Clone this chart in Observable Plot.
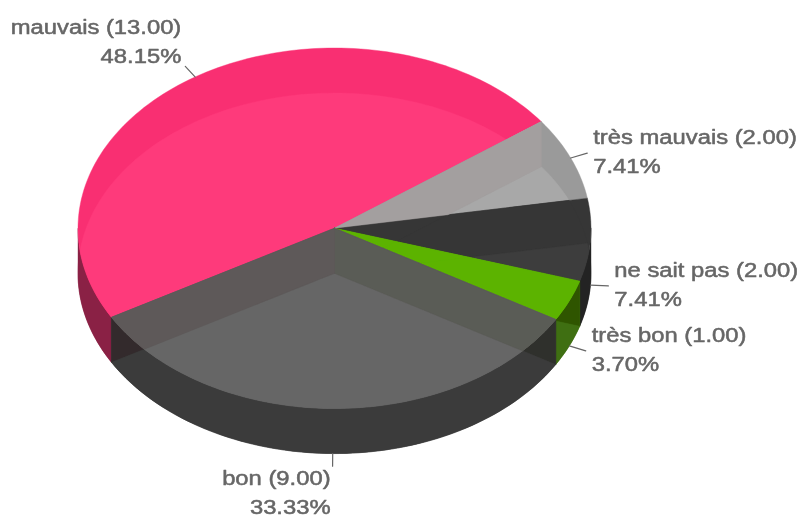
<!DOCTYPE html>
<html><head><meta charset="utf-8">
<style>html,body{margin:0;padding:0;background:#fff}svg{display:block}</style>
<script src="https://cdn.jsdelivr.net/npm/d3@7"></script>
<script src="https://cdn.jsdelivr.net/npm/@observablehq/plot@0.6"></script>
</head><body><script>
const categories = ["mauvais","très mauvais","ne sait pas","très bon","bon"];
const counts = [13,2,2,1,9];
const percents = ["48.15%","7.41%","7.41%","3.70%","33.33%"];

// colours of each top face: plain, then seen over the floor sector of each slice (same order)
const topPlain = ["#f92f72","#9a9a9a","#363636","#5cb300","#666666"];
const topOverFloor = [
  ["#fe3a7b","#f92f72","#f92f72","#f92f72","#f92f72"],
  ["#9a9a9a","#a8a8a8","#9a9a9a","#9a9a9a","#9a9a9a"],
  ["#363636","#363636","#3d3d3d","#3d3d3d","#363636"],
  ["#5cb300","#5cb300","#5cb300","#5cb300","#5cb300"],
  ["#5e5959","#5a5c56","#5a5c56","#5a5c56","#666666"]
];
const wallPlain = ["#8a2145","#999999","#232323","#3f6f12","#3b3b3b"];
const wallOverFloor = [
  ["#8a2145","#8a2145","#8a2145","#8a2145","#8a2145"],
  ["#999999","#999999","#999999","#999999","#999999"],
  ["#232323","#343434","#232323","#232323","#232323"],
  ["#3f6f12","#3f6f12","#2f5500","#3f6f12","#3f6f12"],
  ["#332a2c","#3b3b3b","#3b3b3b","#2f302c","#3b3b3b"]
];
// inner cut faces of the slices, seen through a neighbouring top face
const cutFaceTint = {tresMauvaisOverMauvais:"#a39f9f", bonOverTresBon:"#5a5c56", bonOverMauvais:"#5e5959"};

const depth = 0.25;          // thickness of the pie, in radii of the vertical axis
const startAngle = 150.4;    // degrees, clockwise on screen from 3 o'clock
const total = d3.sum(counts);
const rad = Math.PI/180;

let a = startAngle;
const spans = counts.map(v => { const s=[a, a+v/total*360]; a=s[1]; return s; });

const arc = (a0,a1,dy=0) => {
  const n = Math.max(2, Math.ceil(Math.abs(a1-a0)/1.5));
  return d3.range(n+1).map(i => { const t=(a0+(a1-a0)*i/n)*rad; return [Math.cos(t), Math.sin(t)+dy]; });
};
const sector = ([a0,a1],dy=0) => [[0,dy], ...arc(a0,a1,dy)];
const cutFace = deg => { const c=Math.cos(deg*rad), s=Math.sin(deg*rad); return [[0,0],[c,s],[c,s+depth],[0,depth]]; };
function wall([a0,a1]){
  const out=[];
  for (const [lo,hi] of [[0,180],[360,540]]) {
    const s=Math.max(a0,lo), e=Math.min(a1,hi);
    if (e>s) out.push([...arc(s,e,0), ...arc(e,s,depth)]);
  }
  return out;
}
// Sutherland-Hodgman against a convex clip polygon
function clip(subject, convex){
  let area=0; convex.forEach((p,i)=>{const q=convex[(i+1)%convex.length]; area+=p[0]*q[1]-q[0]*p[1];});
  const sgn=Math.sign(area);
  let out=subject;
  convex.forEach((p,i)=>{
    const q=convex[(i+1)%convex.length];
    const side=r=>sgn*((q[0]-p[0])*(r[1]-p[1])-(q[1]-p[1])*(r[0]-p[0]));
    const input=out; out=[];
    input.forEach((r,j)=>{
      const s=input[(j+1)%input.length], sr=side(r), ss=side(s);
      if(sr>=0) out.push(r);
      if((sr>=0)!==(ss>=0)){const k=sr/(sr-ss); out.push([r[0]+(s[0]-r[0])*k, r[1]+(s[1]-r[1])*k]);}
    });
  });
  return out;
}

const faces=[];
spans.forEach((sp,i)=>wall(sp).forEach(w=>{
  faces.push({pts:w,fill:wallPlain[i]});
  spans.forEach((sq,j)=>faces.push({pts:clip(w,sector(sq,depth)),fill:wallOverFloor[i][j]}));
}));
spans.forEach((sp,i)=>{
  const top=sector(sp);
  faces.push({pts:top,fill:topPlain[i]});
  spans.forEach((sq,j)=>faces.push({pts:clip(top,sector(sq,depth)),fill:topOverFloor[i][j]}));
});
faces.push({pts:clip(sector(spans[1]),cutFace(spans[0][1])),fill:cutFaceTint.tresMauvaisOverMauvais});
faces.push({pts:clip(sector(spans[4]),cutFace(spans[4][0])),fill:cutFaceTint.bonOverTresBon});
faces.push({pts:clip(sector(spans[4]),cutFace(spans[4][1])),fill:cutFaceTint.bonOverMauvais});

const faceMarks = faces.filter(f=>f.pts.length>2).map(f=>
  Plot.line([...f.pts,f.pts[0]],{x:d=>d[0],y:d=>d[1],fill:f.fill,stroke:f.fill,strokeWidth:0.4,curve:"linear"}));

const labelMarks = categories.flatMap((name,i)=>{
  const mid=(spans[i][0]+spans[i][1])/2*rad, c=Math.cos(mid), s=Math.sin(mid);
  const dy=s>0?depth:0, k=1.07;
  const from=[c,s+dy], to=[c*k,s*k+dy];
  const steep=Math.abs(s)>0.8;
  return [
    Plot.line([from,to],{x:d=>d[0],y:d=>d[1],stroke:"#666",strokeWidth:1.2}),
    Plot.text([to],{x:d=>d[0],y:d=>d[1],
      text:()=>`${name} (${counts[i].toFixed(2)})\n${percents[i]}`,
      textAnchor:c>0.1?"start":"end",
      dx:c>0.1?6:(c<-0.1?-4:-2),
      dy:steep?(s>0?-2:-3):-4,
      lineAnchor:steep?(s>0?"top":"bottom"):"middle",
      lineHeight:1.45,
      fontSize:20,fontFamily:"Liberation Sans",fill:"#666",stroke:"#666",strokeWidth:0.5})
  ];
});

const plot = Plot.plot({
  width:803,height:516,margin:0,
  x:{domain:[-1,1],range:[77.5,590.5],axis:null},
  y:{domain:[-1,1],range:[47.5,408],axis:null},
  style:{background:"#fff",filter:"blur(0.5px)"},
  marks:[...faceMarks,...labelMarks]
});
// the reference's lettering is stretched sideways
plot.querySelectorAll("text").forEach(t=>{
  t.setAttribute("transform",(t.getAttribute("transform")||"")+" scale(1.19,1)");
});
document.body.append(plot);
</script></body></html>
